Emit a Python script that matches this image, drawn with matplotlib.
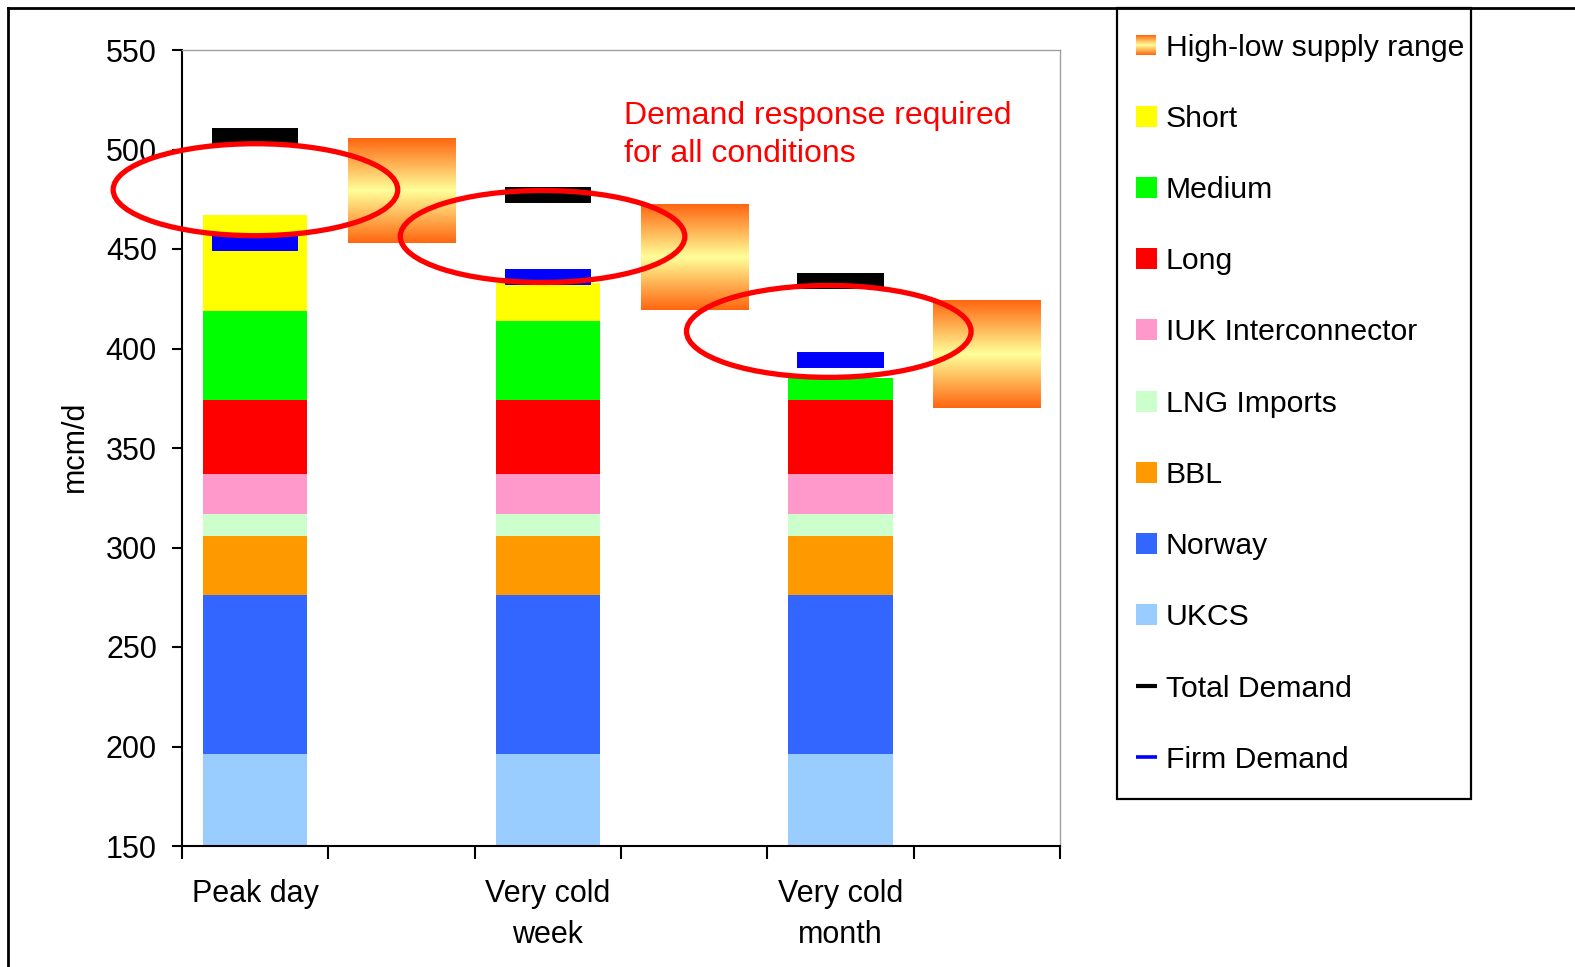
import numpy as np
import matplotlib
matplotlib.use("Agg")
import matplotlib.pyplot as plt
from matplotlib.patches import Ellipse, Rectangle
from matplotlib.colors import LinearSegmentedColormap
from matplotlib.lines import Line2D

plt.rcParams['font.family'] = ['Liberation Sans', 'DejaVu Sans']

# ---- data (mcm/d) ----
conditions = ["Peak day", "Very cold\nweek", "Very cold\nmonth"]
ukcs = [196, 196, 196]
norway = [80, 80, 80]
bbl = [30, 30, 30]
lng = [11, 11, 11]
iuk = [20, 20, 20]
long_range = [37, 37, 37]
medium = [45, 40, 11]
short = [48, 19, 0]
total_demand = [507, 477, 434]
firm_demand = [453, 436, 394]
supply_high = [505.5, 472.5, 424]
supply_low = [453, 419.5, 370]

series = [
    ("UKCS", ukcs, "#99CCFF"),
    ("Norway", norway, "#3366FF"),
    ("BBL", bbl, "#FF9900"),
    ("LNG Imports", lng, "#CCFFCC"),
    ("IUK Interconnector", iuk, "#FF99CC"),
    ("Long", long_range, "#FF0000"),
    ("Medium", medium, "#00FF00"),
    ("Short", short, "#FFFF00"),
]

W, H = 1575, 967
fig = plt.figure(figsize=(W / 100, H / 100), dpi=100)
fig.patch.set_facecolor("white")

def fx(px):
    return px / W

def fy(py):
    return 1 - py / H

ax = fig.add_axes([fx(182), fy(846), fx(1060) - fx(182), fy(50) - fy(846)])

bar_x = np.array([0, 2, 4])
range_x = np.array([1, 3, 5])

bottom = np.zeros(3)
for name, vals, col in series:
    v = np.array(vals, dtype=float)
    ax.bar(bar_x, v, width=0.714, bottom=bottom, color=col, edgecolor="none", zorder=2)
    bottom += v

# supply range boxes with an orange-yellow-orange gradient
grad_cmap = LinearSegmentedColormap.from_list(
    "hilo", [(0.0, "#FF6610"), (0.5, "#FFFF99"), (1.0, "#FF6610")])
grad = np.linspace(0, 1, 256).reshape(-1, 1)
for xc, hi, lo in zip(range_x, supply_high, supply_low):
    ax.imshow(grad, cmap=grad_cmap, extent=[xc - 0.366, xc + 0.366, lo, hi],
              aspect="auto", interpolation="bilinear", zorder=2)

# demand markers
ax.hlines(total_demand, bar_x - 0.294, bar_x + 0.294, colors="black", lw=11.5, zorder=3)
ax.hlines(firm_demand, bar_x - 0.294, bar_x + 0.294, colors="#0000FF", lw=11.5, zorder=3)

# highlight ellipses
for (ex, ey) in [(0.002, 479.8), (1.964, 456.3), (3.92, 408.6)]:
    ax.add_patch(Ellipse((ex, ey), 1.945, 46.2, fill=False, edgecolor="#FF0000",
                         lw=3.8, zorder=4, clip_on=False))

ax.set_xlim(-0.5, 5.5)
ax.set_ylim(150, 550)
ax.set_yticks(np.arange(150, 551, 50))
ax.tick_params(axis="y", direction="out", length=7, width=1.5, pad=11, labelsize=22)
ax.set_xticks(np.arange(-0.5, 5.6, 1.0))
ax.set_xticklabels([])
ax.tick_params(axis="x", which="major", direction="out", length=9, width=1.5)
ax.set_xticks(bar_x, minor=True)
ax.set_xticklabels(conditions, minor=True)
ax.tick_params(axis="x", which="minor", length=0, pad=24, labelsize=22)
for lab in ax.get_xticklabels(minor=True):
    lab.set_linespacing(1.45)

for side in ("left", "bottom"):
    ax.spines[side].set_linewidth(1.5)
    ax.spines[side].set_color("black")
for side in ("top", "right"):
    ax.spines[side].set_linewidth(1.0)
    ax.spines[side].set_color("#A0A0A0")

fig.text(fx(75), fy(446), "mcm/d", rotation=90, ha="center", va="center", fontsize=22)
fig.text(fx(624), fy(162), "Demand response required\nfor all conditions", color="#FF0000",
         ha="left", va="baseline", fontsize=23, linespacing=1.36)

# overlay in pixel space for the frame and the legend
ov = fig.add_axes([0, 0, 1, 1], zorder=5)
ov.set_facecolor("none")
ov.axis("off")

ov.add_line(Line2D([8, 8], [8, H], color="black", lw=2))
ov.add_line(Line2D([8, W], [8, 8], color="black", lw=2))
ov.add_patch(Rectangle((1117, 8), 354, 791, fill=False, edgecolor="black", lw=1.6))

legend_items = [
    ("High-low supply range", "grad", None),
    ("Short", "patch", "#FFFF00"),
    ("Medium", "patch", "#00FF00"),
    ("Long", "patch", "#FF0000"),
    ("IUK Interconnector", "patch", "#FF99CC"),
    ("LNG Imports", "patch", "#CCFFCC"),
    ("BBL", "patch", "#FF9900"),
    ("Norway", "patch", "#3366FF"),
    ("UKCS", "patch", "#99CCFF"),
    ("Total Demand", "line", "black"),
    ("Firm Demand", "line", "#0000FF"),
]
for i, (label, kind, col) in enumerate(legend_items):
    cy = 45 + 71.2 * i
    if kind == "patch":
        ov.add_patch(Rectangle((1136, cy - 10.5), 21, 21, color=col, lw=0))
    elif kind == "grad":
        ov.imshow(grad, cmap=grad_cmap, extent=[1136, 1156, cy + 10, cy - 10],
                  aspect="auto", interpolation="bilinear")
    else:
        ov.add_line(Line2D([1136, 1157], [cy, cy], color=col, lw=3 if col == "black" else 2.6,
                           solid_capstyle="butt"))
    ov.text(1166, cy + 10.7, label, ha="left", va="baseline", fontsize=21.7)

ov.set_xlim(0, W)
ov.set_ylim(H, 0)
ov.set_aspect("auto")

fig.savefig("out.png", dpi=100, facecolor="white")
